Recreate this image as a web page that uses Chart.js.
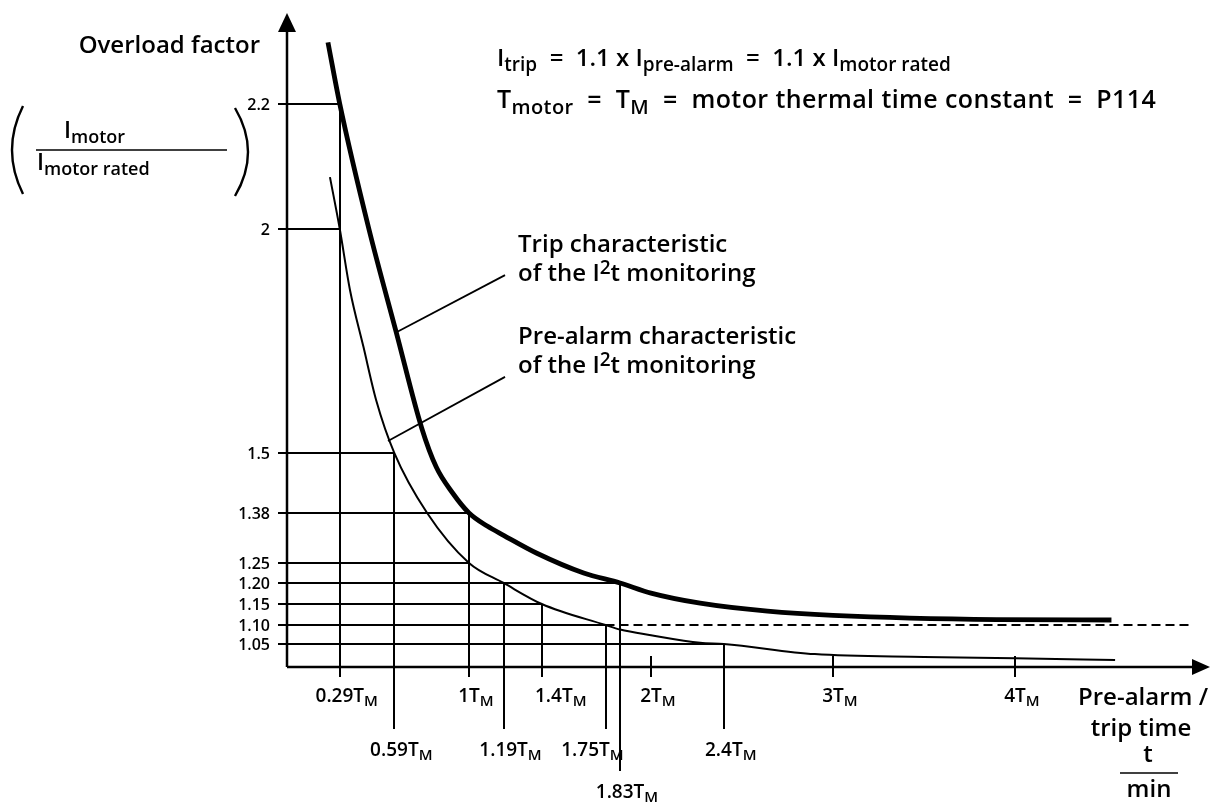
<!DOCTYPE html>
<html>
<head>
<meta charset="utf-8">
<script src="https://cdn.jsdelivr.net/npm/chart.js@4.4.1/dist/chart.umd.min.js"></script>
<style>
  html, body { margin: 0; padding: 0; background: #fff; }
  canvas { display: block; }
</style>
</head>
<body>
<canvas id="chart" width="1211" height="807"></canvas>
<script>
// trip characteristic (thick curve), t in multiples of T_M
const tripT = [0.225, 0.29, 0.45, 0.60, 0.74, 0.82, 0.91, 1.0, 1.1, 1.19, 1.37, 1.63, 1.83, 2.0, 2.27, 2.64, 3.0, 3.9, 4.53]
const tripY = [2.30, 2.2, 2.0, 1.77, 1.556, 1.472, 1.42, 1.38, 1.346, 1.322, 1.276, 1.225, 1.20, 1.176, 1.152, 1.133, 1.123, 1.113, 1.112]

// pre-alarm characteristic (thin curve)
const preT = [0.236, 0.29, 0.346, 0.42, 0.49, 0.59, 0.77, 1.0, 1.19, 1.4, 1.75, 1.83, 2.0, 2.27, 2.4, 2.9, 3.5, 4.0, 4.55]
const preY = [2.083, 2.0, 1.864, 1.737, 1.618, 1.5, 1.38, 1.25, 1.20, 1.15, 1.10, 1.088, 1.073, 1.053, 1.05, 1.028, 1.022, 1.019, 1.015]

// y reference levels and where the horizontal line stops
const levelY = [2.2, 2.0, 1.5, 1.38, 1.25, 1.20, 1.15, 1.10, 1.05]
const levelLabels = ['2.2', '2', '1.5', '1.38', '1.25', '1.20', '1.15', '1.10', '1.05']
const levelEndT = [0.29, 0.29, 0.59, 1.0, 1.0, 1.83, 1.4, 1.75, 2.4]

// x marks: value, label, level where drop line starts, label row
const markT = [0.29, 0.59, 1.0, 1.19, 1.4, 1.75, 1.83, 2.0, 2.4, 3.0, 4.0]
const markLabels = ['0.29T', '0.59T', '1T', '1.19T', '1.4T', '1.75T', '1.83T', '2T', '2.4T', '3T', '4T']
const markTopY = [2.2, 1.5, 1.38, 1.20, 1.15, 1.10, 1.20, null, 1.05, null, null]
const markRow = [0, 1, 0, 1, 0, 1, 2, 0, 1, 0, 0]

// dashed 1.1 x I_motor rated line
const dashT = [1.75, 4.98]
const dashY = [1.10, 1.10]

// leader lines to the curve captions
const tripLeaderT = [0.604, 1.198]
const tripLeaderY = [1.77, 1.897]
const preLeaderT = [0.555, 1.198]
const preLeaderY = [1.527, 1.67]

// non-uniform y axis of the drawing (value -> fraction of axis height)
const yStops = [1.0, 1.05, 1.10, 1.15, 1.20, 1.25, 1.38, 1.5, 2.0, 2.2, 2.32]
const yFracs = [0, 0.0361, 0.0659, 0.0989, 0.1319, 0.1633, 0.2418, 0.3359, 0.6876, 0.8838, 1]

function interp(v, a, b) {
  let i = 1
  while (i < a.length - 1 && v > a[i]) i++
  return b[i - 1] + (v - a[i - 1]) * (b[i] - b[i - 1]) / (a[i] - a[i - 1])
}

class PiecewiseScale extends Chart.LinearScale {
  getPixelForValue(value) {
    return value === null ? NaN : this.getPixelForDecimal(interp(value, yStops, yFracs))
  }
  getValueForPixel(pixel) {
    return interp(this.getDecimalForPixel(pixel), yFracs, yStops)
  }
}
PiecewiseScale.id = 'piecewise'
PiecewiseScale.defaults = Chart.LinearScale.defaults
Chart.register(PiecewiseScale)

const FONT = '"Open Sans", "Noto Sans", sans-serif'
const WEIGHT = '600 '

// text with sub/superscripts: parts = [[text, kind]]
function rich(ctx, parts, x, y, size, align) {
  const small = Math.round(size * 0.78)
  const fontOf = k => WEIGHT + (k ? small : size) + 'px ' + FONT
  let w = 0
  parts.forEach(([t, k]) => { ctx.font = fontOf(k); w += ctx.measureText(t).width })
  let cx = align === 'center' ? x - w / 2 : align === 'right' ? x - w : x
  parts.forEach(([t, k]) => {
    ctx.font = fontOf(k)
    const dy = k === 'sub' ? size * 0.22 : k === 'sup' ? -size * 0.3 : 0
    ctx.fillText(t, cx, y + dy)
    cx += ctx.measureText(t).width
  })
}

function seg(ctx, x1, y1, x2, y2) {
  ctx.beginPath()
  ctx.moveTo(x1, y1)
  ctx.lineTo(x2, y2)
  ctx.stroke()
}

const drawing = {
  id: 'drawing',
  beforeDatasetsDraw(chart) {
    const { ctx, scales: { x, y } } = chart
    const x0 = x.getPixelForValue(0)
    const y0 = y.getPixelForValue(1.0)
    const rowDrop = [10, 62, 104]
    ctx.save()
    ctx.strokeStyle = '#000'
    ctx.fillStyle = '#000'
    ctx.lineCap = 'butt'

    // horizontal reference lines
    ctx.lineWidth = 2
    levelY.forEach((v, i) => {
      const py = Math.round(y.getPixelForValue(v))
      seg(ctx, x0 - 9, py, x.getPixelForValue(levelEndT[i]), py)
    })

    // vertical drop lines / ticks
    markT.forEach((t, i) => {
      const px = Math.round(x.getPixelForValue(t))
      const top = markTopY[i] === null ? y0 - 11 : y.getPixelForValue(markTopY[i])
      seg(ctx, px, top, px, y0 + rowDrop[markRow[i]])
    })

    // axes with arrows
    ctx.lineWidth = 2.5
    seg(ctx, x0, y0, x0, 28)
    seg(ctx, x0, y0, 1195, y0)
    ctx.beginPath()
    ctx.moveTo(x0, 13); ctx.lineTo(x0 - 9, 32); ctx.lineTo(x0 + 9, 32); ctx.closePath(); ctx.fill()
    ctx.beginPath()
    ctx.moveTo(1210, y0); ctx.lineTo(1192, y0 - 8); ctx.lineTo(1192, y0 + 8); ctx.closePath(); ctx.fill()

    // y tick labels
    ctx.textAlign = 'left'
    ctx.textBaseline = 'alphabetic'
    levelY.forEach((v, i) => {
      const py = y.getPixelForValue(v)
      rich(ctx, [[levelLabels[i], '']], 270, py + 6, 16, 'right')
    })

    // x tick labels
    const rowY = [35, 89, 131]
    const shift = { '1.4T': 12, '1.75T': -20 }
    markT.forEach((t, i) => {
      const px = x.getPixelForValue(t)
      ctx.font = WEIGHT + '19px ' + FONT
      const w = ctx.measureText(markLabels[i]).width
      const left = px - w / 2 + (shift[markLabels[i]] || 0)
      rich(ctx, [[markLabels[i], ''], ['M', 'sub']], left, y0 + rowY[markRow[i]], 19, 'left')
    })

    // axis titles
    rich(ctx, [['Overload factor', '']], 260, 53, 24, 'right')
    rich(ctx, [['I', ''], ['motor', 'sub']], 64, 138, 23, 'left')
    rich(ctx, [['I', ''], ['motor rated', 'sub']], 37, 170, 23, 'left')
    ctx.lineWidth = 1.6
    seg(ctx, 36, 150, 227, 150)
    ctx.lineWidth = 2.4
    ctx.beginPath(); ctx.moveTo(23, 106); ctx.quadraticCurveTo(1, 150, 23, 194); ctx.stroke()
    ctx.beginPath(); ctx.moveTo(235, 108); ctx.quadraticCurveTo(261, 152, 235, 196); ctx.stroke()

    rich(ctx, [['Pre-alarm /', '']], 1143, 705, 24, 'center')
    rich(ctx, [['trip time', '']], 1141, 736, 24, 'center')
    rich(ctx, [['t', '']], 1148, 762, 24, 'center')
    ctx.lineWidth = 1.6
    seg(ctx, 1120, 773, 1178, 773)
    rich(ctx, [['min', '']], 1149, 797, 24, 'center')

    // formulas
    rich(ctx, [['I', ''], ['trip', 'sub'], ['  =  1.1 x I', ''], ['pre-alarm', 'sub'], ['  =  1.1 x I', ''], ['motor rated', 'sub']], 497, 66, 24, 'left')
    ctx.letterSpacing = '0.4px'
    rich(ctx, [['T', ''], ['motor', 'sub'], ['  =  T', ''], ['M', 'sub'], ['  =  motor thermal time constant  =  P114', '']], 497, 108, 25, 'left')
    ctx.letterSpacing = '0px'

    // curve captions
    const lx = x.getPixelForValue(tripLeaderT[1]) + 13
    rich(ctx, [['Trip characteristic', '']], lx, 252, 24, 'left')
    rich(ctx, [['of the I', ''], ['2', 'sup'], ['t monitoring', '']], lx, 281, 24, 'left')
    rich(ctx, [['Pre-alarm characteristic', '']], lx, 344, 24, 'left')
    rich(ctx, [['of the I', ''], ['2', 'sup'], ['t monitoring', '']], lx, 373, 24, 'left')
    ctx.restore()
  }
}

const pts = (xs, ys) => xs.map((t, i) => ({ x: t, y: ys[i] }))

new Chart(document.getElementById('chart'), {
  type: 'scatter',
  data: {
    datasets: [
      { label: 'Trip characteristic', data: pts(tripT, tripY), showLine: true, borderColor: '#000', borderWidth: 4.8, pointRadius: 0, cubicInterpolationMode: 'monotone', borderCapStyle: 'butt' },
      { label: 'Pre-alarm characteristic', data: pts(preT, preY), showLine: true, borderColor: '#000', borderWidth: 2, pointRadius: 0, cubicInterpolationMode: 'monotone' },
      { label: '1.1 x rated', data: pts(dashT, dashY), showLine: true, borderColor: '#000', borderWidth: 2, borderDash: [9, 5], pointRadius: 0 },
      { label: 'trip leader', data: pts(tripLeaderT, tripLeaderY), showLine: true, borderColor: '#000', borderWidth: 1.8, pointRadius: 0 },
      { label: 'pre leader', data: pts(preLeaderT, preLeaderY), showLine: true, borderColor: '#000', borderWidth: 1.8, pointRadius: 0 }
    ]
  },
  options: {
    responsive: false,
    animation: false,
    events: [],
    layout: { padding: { left: 287, right: 14, top: 30, bottom: 140 } },
    scales: {
      x: { type: 'linear', min: 0, max: 5, display: false },
      y: { type: 'piecewise', min: 1.0, max: 2.32, display: false }
    },
    plugins: {
      legend: { display: false },
      tooltip: { enabled: false }
    }
  },
  plugins: [drawing]
})
</script>
</body>
</html>
